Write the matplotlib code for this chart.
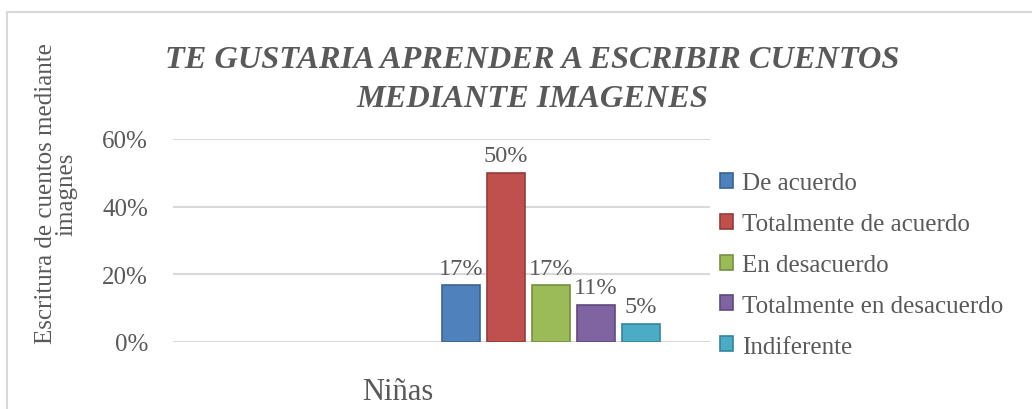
import numpy as np
import matplotlib.pyplot as plt
from matplotlib.patches import Rectangle

# data
categoria = "Niñas"
respuestas = ["De acuerdo", "Totalmente de acuerdo", "En desacuerdo",
              "Totalmente en desacuerdo", "Indiferente"]
valores = [0.167, 0.50, 0.167, 0.11, 0.054]
colores = ["#4F81BD", "#C0504D", "#9BBB59", "#8064A2", "#4BACC6"]
bordes = ["#3A6491", "#943C3A", "#76903F", "#5F4A7C", "#33869C"]
yticks = [0.0, 0.2, 0.4, 0.6]

gris = "#595959"
serif = ["Liberation Serif", "DejaVu Serif"]
plt.rcParams['font.family'] = serif

fig = plt.figure(figsize=(10.32, 4.10), dpi=100)
fig.patches.append(Rectangle((7 / 1032, -0.1), 1.2, 1 - 13 / 410 + 0.1,
                             transform=fig.transFigure, fill=False,
                             edgecolor="#D9D9D9", linewidth=1.5))

ax = fig.add_axes([173 / 1032, 1 - 343 / 410, 537 / 1032, 203 / 410])

# bars sit to the right of the category centre, like in the original chart
offs = 1.4 + np.arange(len(valores)) * 1.0
for i in range(len(valores)):
    ax.bar(offs[i], valores[i], width=0.84, color=colores[i],
           edgecolor=bordes[i], linewidth=1.2, label=respuestas[i], zorder=3)
    ax.text(offs[i], valores[i] + 0.02, "{:.0%}".format(valores[i]),
            ha="center", va="bottom", fontsize=17.5, color=gris, zorder=4)

ax.set_xlim(-5, 6.93)
ax.set_ylim(0, 0.6)
ax.set_yticks(yticks)
ax.set_yticklabels(["{:.0%}".format(t) for t in yticks])
ax.set_xticks([0])
ax.set_xticklabels([categoria])
ax.tick_params(axis="y", length=0, pad=18, labelsize=18, labelcolor=gris)
ax.tick_params(axis="x", length=0, pad=25, labelsize=22, labelcolor=gris)
ax.grid(axis="y", color="#D9D9D9", linewidth=1.5, zorder=0)
for s in ax.spines.values():
    s.set_visible(False)

fig.text(532 / 1032, 1 - 80 / 410,
         "TE GUSTARIA APRENDER A ESCRIBIR CUENTOS\nMEDIANTE IMAGENES",
         ha="center", va="center", fontsize=23.3, fontweight="bold",
         fontstyle="italic", color=gris, linespacing=1.45)
fig.text(56 / 1032, 1 - 194 / 410, "Escritura de cuentos mediante\nimagnes",
         rotation=90, ha="center", va="center", fontsize=18, color=gris,
         linespacing=0.9)

leg = fig.legend(loc="upper left", bbox_to_anchor=(697 / 1032, 1 - 151 / 410),
                 frameon=False, fontsize=18, labelcolor=gris, handlelength=0.55,
                 handleheight=0.55, handletextpad=0.35, labelspacing=0.75)

fig.savefig("out.png", dpi=100)
